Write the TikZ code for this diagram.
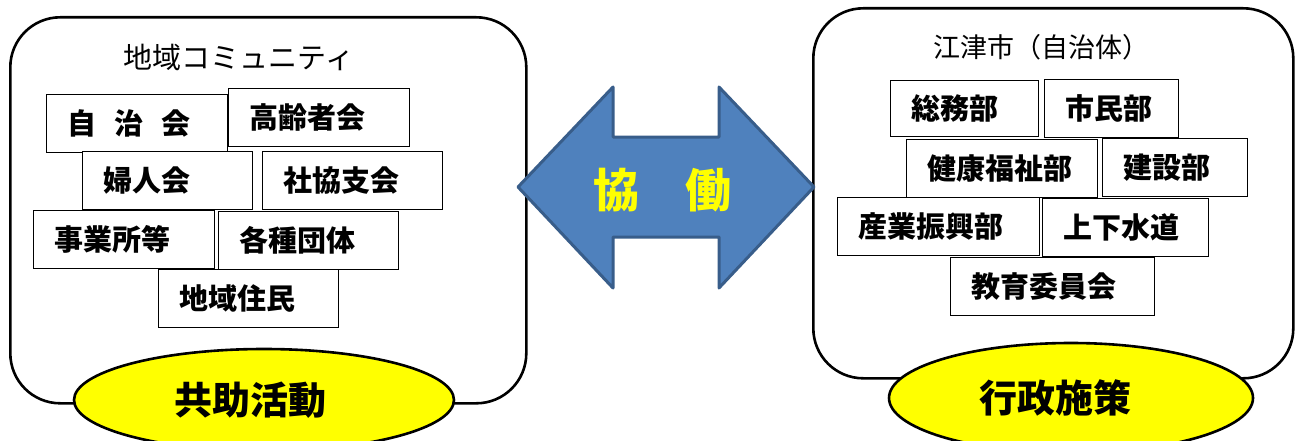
\documentclass[tikz,border=0pt]{standalone}
\usepackage{fontspec}
\setmainfont{Noto Sans CJK JP}
\usepackage{tikz}
\usetikzlibrary{shapes.geometric}
\definecolor{panelblue}{HTML}{4F81BD}
\definecolor{paneledge}{HTML}{385D8A}
\definecolor{signyellow}{HTML}{FFFF00}

\begin{document}
\begin{tikzpicture}[
  x=1pt,y=-1pt,
  panel/.style={draw=black,line width=2.6pt,rounded corners=50pt,fill=white,anchor=north west},
  heading/.style={font=\fontsize{27}{30}\selectfont},
  unit/.style={draw=black,line width=1.4pt,fill=white,anchor=north west,inner xsep=21pt,inner ysep=0pt,
    minimum height=58pt,align=left,font=\fontsize{29}{32}\selectfont\bfseries},
  badge/.style={ellipse,draw=black,line width=2.6pt,fill=signyellow,inner sep=0pt},
  badgetext/.style={font=\fontsize{38}{42}\selectfont\bfseries}
]
\useasboundingbox (0,0) rectangle (1300,441);

% community side
\node[panel,minimum width=516pt,minimum height=386pt] (community) at (9,16) {};
\node[heading,font=\fontsize{29}{32}\selectfont] (communitytitle) at (239,57) {地域コミュニティ};
\node[unit,text width=139pt] (jichikai) at (46,94) {自\hspace{18pt}治\hspace{18pt}会};
\node[unit,text width=139pt] (koreisha) at (228,88) {高齢者会};
\node[unit,text width=128pt] (fujinkai) at (82,151) {婦人会};
\node[unit,text width=138pt] (shakyo) at (262,151) {社協支会};
\node[unit,text width=139pt] (jigyosho) at (33,210) {事業所等};
\node[unit,text width=138pt] (dantai) at (218,211) {各種団体};
\node[unit,text width=138pt] (jumin) at (158,269) {地域住民};
\node[badge,minimum width=380pt,minimum height=102pt,
  label={[badgetext,xshift=-14pt]center:共助活動}] (kyojo) at (264,400) {};

% city side
\node[panel,minimum width=480pt,minimum height=370pt] (city) at (812,7) {};
\node[heading] (citytitle) at (1041,47) {江津市（自治体）};
\node[unit,text width=106pt,minimum height=56pt] (somu) at (890,80) {総務部};
\node[unit,text width=92pt] (shimin) at (1044,79) {市民部};
\node[unit,text width=149pt] (kenko) at (906,139) {健康福祉部};
\node[unit,text width=103pt] (kensetsu) at (1102,138) {建設部};
\node[unit,text width=160pt] (sangyo) at (837,197) {産業振興部};
\node[unit,text width=124pt] (gesuido) at (1042,198) {上下水道};
\node[unit,text width=162pt] (kyoiku) at (950,257) {教育委員会};
\node[badge,minimum width=364pt,minimum height=110pt,
  label={[badgetext,xshift=-16pt]center:行政施策}] (gyosei) at (1071,398) {};

% two-way arrow between the sides
\filldraw[fill=panelblue,draw=paneledge,line width=3pt,line join=round]
  (518,187) -- (613,87) -- (613,137) -- (719,137) -- (719,87) -- (814,187)
  -- (719,288) -- (719,237) -- (613,237) -- (613,288) -- cycle;
\node[text=signyellow,font=\fontsize{46}{50}\selectfont\bfseries] (kyodo) at (662,190) {協　働};
\end{tikzpicture}
\end{document}
